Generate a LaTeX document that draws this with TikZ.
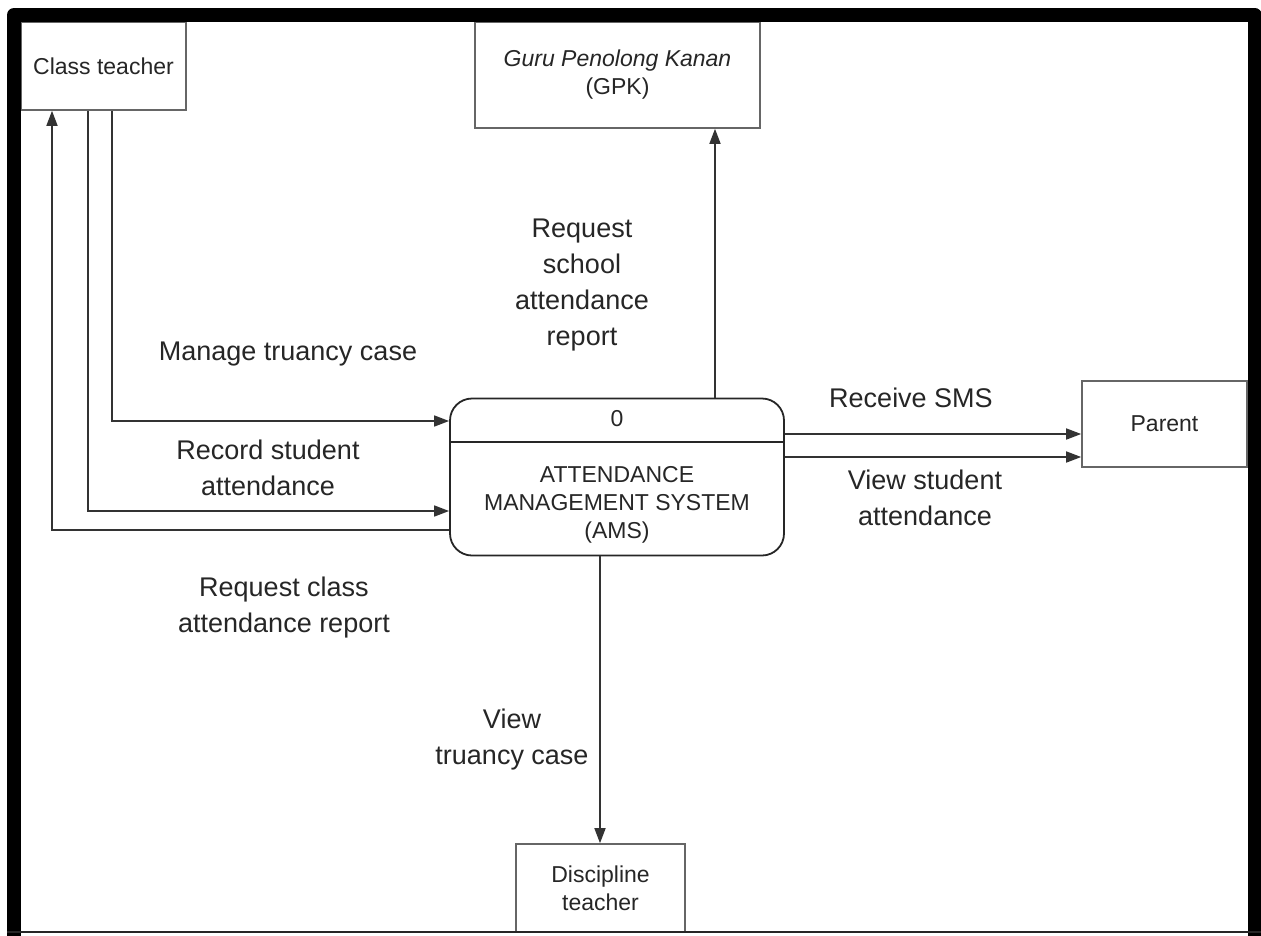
\documentclass[tikz,border=0pt]{standalone}
\usepackage{fontspec}
\setmainfont{Liberation Sans}
\usetikzlibrary{arrows.meta}
\begin{document}
\begin{tikzpicture}[x=1pt,y=-1pt,
  entity/.style={draw=black!60, line width=1.6pt, fill=white, inner sep=0pt,
    font=\fontsize{23}{28}\selectfont, align=center, text=black!85},
  process/.style={draw=black!85, line width=1.8pt, rounded corners=22pt, inner sep=0pt,
    minimum width=334pt, minimum height=157pt},
  ptext/.style={font=\fontsize{23}{28}\selectfont, align=center, text=black!85, inner sep=0pt},
  flow/.style={draw=black!80, line width=1.6pt, -{Triangle[length=15pt,width=11pt]}},
  lbl/.style={font=\fontsize{27}{36}\selectfont, align=center, text=black!85, inner sep=0pt},
]
\useasboundingbox[fill=white] (0,0) rectangle (1261,935);

% external entities
\node[entity, minimum width=165pt, minimum height=88pt] (ct) at (103.5,66) {Class teacher};
\node[entity, minimum width=285pt, minimum height=106pt] (gpk) at (617.5,75)
  {\itshape Guru Penolong Kanan\\(GPK)};
\node[entity, minimum width=165pt, minimum height=86pt] (par) at (1164.5,424) {Parent};
\node[entity, minimum width=169pt, minimum height=88pt] (dis) at (600.5,888) {Discipline\\teacher};

% process 0
\node[process] (ams) at (617,477) {};
\node[ptext] (pid) at (617,419) {0};
\node[ptext] (pname) at (617,505) {ATTENDANCE\\MANAGEMENT SYSTEM\\(AMS)};
\coordinate (div) at (0,442);
\draw[draw=black!85, line width=1.8pt] (ams.west |- div) -- (ams.east |- div);

% routing points
\coordinate (mtc) at (112,421);
\coordinate (rsa) at (88,511);
\coordinate (rca) at (52,530);
\coordinate (rsr) at (715,0);
\coordinate (sms) at (0,434);
\coordinate (vsa) at (0,457);
\coordinate (vtc) at (600,0);

% data flows
\draw[flow] (ct.south -| mtc) |- (ams.west |- mtc);
\draw[flow] (ct.south -| rsa) |- (ams.west |- rsa);
\draw[flow] (ams.west |- rca) -| (ct.south -| rca);
\draw[flow] (ams.north -| rsr) -- (gpk.south -| rsr);
\draw[flow] (ams.east |- sms) -- (par.west |- sms);
\draw[flow] (ams.east |- vsa) -- (par.west |- vsa);
\draw[flow] (ams.south -| vtc) -- (dis.north -| vtc);

% flow labels
\node[lbl] (l1) at (288,354) {Manage truancy case};
\node[lbl] (l2) at (268,468) {Record student\\attendance};
\node[lbl] (l3) at (284,608) {Request class\\attendance report};
\node[lbl] (l4) at (582,285) {Request\\school\\attendance\\report};
\node[lbl] (l5) at (911,398) {Receive SMS};
\node[lbl] (l6) at (925,498) {View student\\attendance};
\node[lbl] (l7) at (512,740) {View\\truancy case};

% frame
\draw[line width=14pt, line join=round] (14,940) -- (14,15) -- (1254.5,15) -- (1254.5,940);
\draw[line width=2.5pt, black!85] (7,932) -- (1261,932);
\end{tikzpicture}
\end{document}
